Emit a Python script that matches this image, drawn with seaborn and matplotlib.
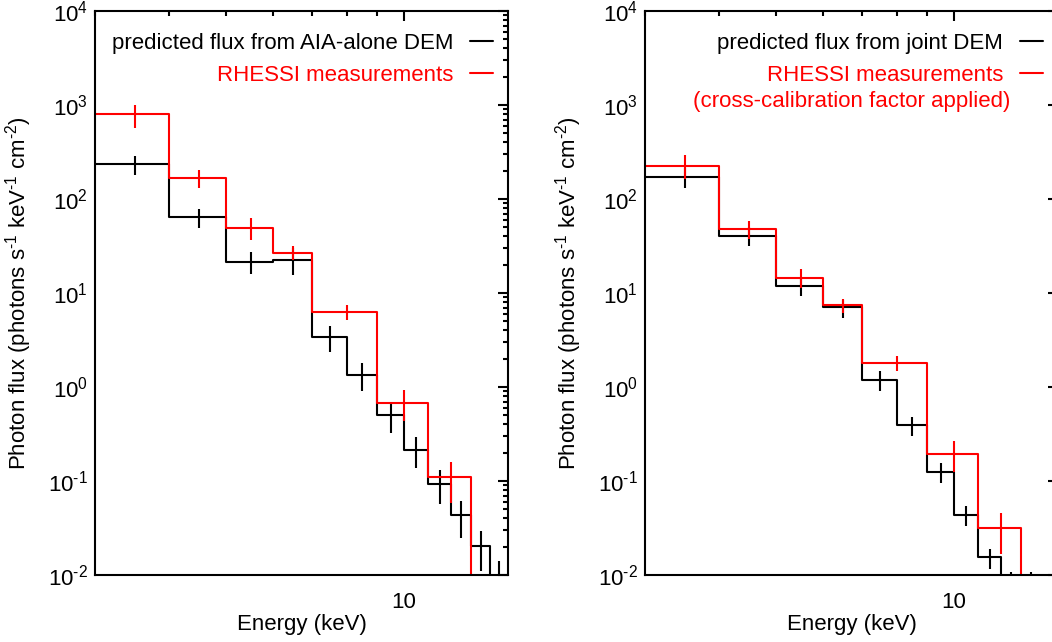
import numpy as np
import pandas as pd
import matplotlib
matplotlib.use("Agg")
import matplotlib.pyplot as plt
from matplotlib.lines import Line2D
from matplotlib.ticker import FixedLocator, FixedFormatter, LogLocator, NullFormatter
import seaborn as sns

# ---------------- data ----------------
black_edges = [3, 4, 5, 6, 7, 8, 9, 10, 11, 12, 13, 14, 15]
red_edges = [3, 4, 5, 6, 7, 9, 11, 13, 15]

# left panel: predicted flux from AIA-alone DEM
left_black = [236, 63.6, 21.5, 22.2, 3.41, 1.33, 0.499, 0.212, 0.094, 0.0434, 0.0202, 0.007]
left_black_lo = [181, 48.6, 16.0, 15.5, 2.38, 0.912, 0.327, 0.136, 0.057, 0.0247, 0.0109, 0.003]
left_black_hi = [288, 78.0, 27.0, 30.0, 4.5, 1.78, 0.659, 0.292, 0.131, 0.0615, 0.0291, 0.0141]
left_red = [798, 167, 49.4, 26.6, 6.34, 0.675, 0.109, 0.005]
left_red_lo = [575, 130, 36.8, 22.2, 5.21, 0.438, 0.059, 0.002]
left_red_hi = [1000, 201, 62.6, 31.3, 7.52, 0.927, 0.160, 0.008]

# right panel: predicted flux from joint DEM
right_black = [171, 40.6, 11.8, 7.1, 1.20, 0.391, 0.125, 0.0434, 0.0154, 0.005, 0.005, 0.003]
right_black_lo = [130, 31.3, 9.2, 5.48, 0.91, 0.301, 0.096, 0.0329, 0.0116, 0.002, 0.002, 0.001]
right_black_hi = [213, 50.2, 14.4, 8.36, 1.47, 0.48, 0.154, 0.0536, 0.0189, 0.0107, 0.0107, 0.006]
right_red = [227, 47.5, 14.3, 7.46, 1.82, 0.194, 0.0313, 0.004]
right_red_lo = [163, 37.4, 11.2, 6.1, 1.49, 0.124, 0.0167, 0.002]
right_red_hi = [292, 57.7, 18.0, 8.7, 2.16, 0.264, 0.0455, 0.006]

left_labels = ["predicted flux from AIA-alone DEM", "RHESSI measurements"]
right_labels = ["predicted flux from joint DEM", "RHESSI measurements"]
right_note = "(cross-calibration factor applied)"

x_ticks = [10]
x_tick_labels = ["10"]
y_ticks = [1e-2, 1e-1, 1e0, 1e1, 1e2, 1e3, 1e4]
y_tick_labels = [r"$10^{\text{-}2}$", r"$10^{\text{-}1}$", r"$10^{0}$", r"$10^{1}$",
                 r"$10^{2}$", r"$10^{3}$", r"$10^{4}$"]
x_label = "Energy (keV)"
y_label = r"Photon flux (photons s$^{\text{-}1}$ keV$^{\text{-}1}$ cm$^{\text{-}2}$)"

# ---------------- style ----------------
sns.set_theme(style="white")
FONT = "Liberation Sans"
plt.rcParams["font.family"] = [FONT, "DejaVu Sans"]
plt.rcParams["mathtext.fontset"] = "custom"
plt.rcParams["mathtext.rm"] = FONT
plt.rcParams["mathtext.it"] = FONT + ":italic"
plt.rcParams["mathtext.bf"] = FONT + ":bold"
plt.rcParams["mathtext.default"] = "regular"
FS = 16
LW = 1.5
RED = "#ff0000"
BLACK = "#000000"

W, H = 1052, 642
fig = plt.figure(figsize=(W / 100, H / 100), dpi=100)
fig.patch.set_facecolor("white")

ax_w = 413 / W
ax_h = 564 / H
ax_b = 1 - 575 / H
axL = fig.add_axes([95 / W, ax_b, ax_w, ax_h])
axR = fig.add_axes([645 / W, ax_b, ax_w, ax_h])


def step_df(edges, vals):
    return pd.DataFrame({"E": edges, "F": list(vals) + [vals[-1]]})


def centers(edges):
    e = np.asarray(edges, dtype=float)
    return 0.5 * (e[:-1] + e[1:])


def draw_panel(ax, bk, bk_lo, bk_hi, rd, rd_lo, rd_hi, labels):
    ax.set_xscale("log")
    ax.set_yscale("log")
    for edges, v, lo, hi, c in [
        (black_edges, bk, bk_lo, bk_hi, BLACK),
        (red_edges, rd, rd_lo, rd_hi, RED),
    ]:
        sns.lineplot(data=step_df(edges, v), x="E", y="F", ax=ax, color=c,
                     lw=LW, drawstyle="steps-post", estimator=None, sort=False)
        v = np.asarray(v)
        ax.errorbar(centers(edges), v,
                    yerr=[v - np.asarray(lo), np.asarray(hi) - v],
                    fmt="none", ecolor=c, elinewidth=LW, capsize=0)
    ax.set_xlim(3, 15)
    ax.set_ylim(1e-2, 1e4)
    ax.xaxis.set_major_locator(FixedLocator(x_ticks))
    ax.xaxis.set_major_formatter(FixedFormatter(x_tick_labels))
    ax.xaxis.set_minor_locator(LogLocator(base=10, subs=np.arange(2, 10)))
    ax.xaxis.set_minor_formatter(NullFormatter())
    ax.yaxis.set_major_locator(FixedLocator(y_ticks))
    ax.yaxis.set_major_formatter(FixedFormatter(y_tick_labels))
    ax.yaxis.set_minor_locator(LogLocator(base=10, subs=np.arange(2, 10)))
    ax.yaxis.set_minor_formatter(NullFormatter())
    ax.tick_params(which="both", direction="in", top=True, right=True,
                   width=LW, color=BLACK, labelsize=FS, labelcolor=BLACK)
    ax.tick_params(which="major", length=7.2)
    ax.tick_params(which="minor", length=3.6)
    ax.tick_params(axis="x", which="major", pad=12)
    ax.tick_params(axis="y", which="major", pad=5)
    for s in ax.spines.values():
        s.set_visible(True)
        s.set_color(BLACK)
        s.set_linewidth(LW)
    ax.set_xlabel(x_label, fontsize=FS, color=BLACK)
    ax.set_ylabel(y_label, fontsize=FS, color=BLACK)
    ax.xaxis.set_label_coords(0.5, -0.069)
    ax.xaxis.label.set_va("top")
    ax.yaxis.set_label_coords(-0.148, 0.5)
    ax.set_facecolor("white")
    ax.grid(False)
    handles = [Line2D([], [], color=BLACK, lw=LW), Line2D([], [], color=RED, lw=LW)]
    leg = ax.legend(handles, labels, loc="upper right",
                    bbox_to_anchor=(1 - 14.7 / 413, 1 - 21.5 / 564),
                    frameon=False, markerfirst=False, fontsize=FS,
                    handlelength=1.05, handletextpad=0.75, borderpad=0,
                    borderaxespad=0, labelspacing=0.5)
    for t, c in zip(leg.get_texts(), [BLACK, RED]):
        t.set_color(c)
    return leg


draw_panel(axL, left_black, left_black_lo, left_black_hi,
           left_red, left_red_lo, left_red_hi, left_labels)
draw_panel(axR, right_black, right_black_lo, right_black_hi,
           right_red, right_red_lo, right_red_hi, right_labels)
axR.text((1010 - 645) / 413, 1 - (101 - 11) / 564, right_note, transform=axR.transAxes,
         ha="right", va="center", fontsize=FS, color=RED)

fig.savefig("out.png", dpi=100, facecolor="white")
